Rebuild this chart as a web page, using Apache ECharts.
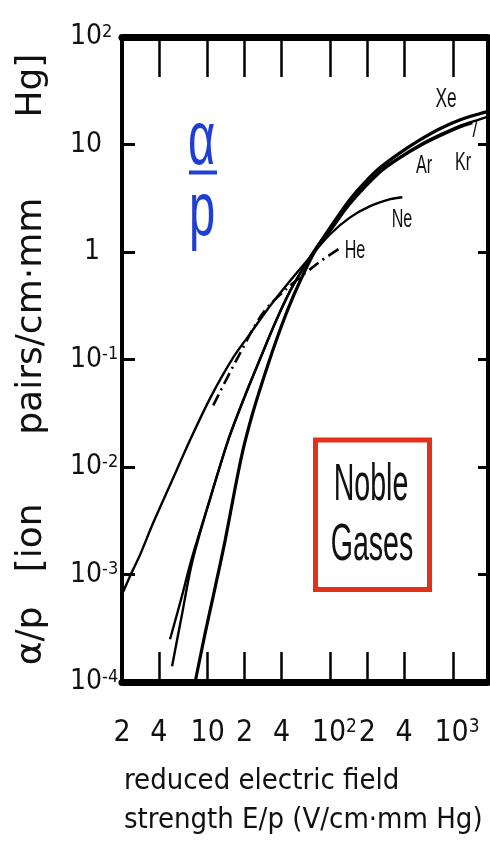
<!DOCTYPE html>
<html><head><meta charset="utf-8">
<script src="https://cdn.jsdelivr.net/npm/echarts@6/dist/echarts.min.js"></script>
<style>html,body{margin:0;padding:0;background:#fff}#c{width:490px;height:849px}</style>
</head><body><div id="c"></div>
<script>
// ---- tick marks / labels ----
const xTickValues = [2, 4, 10, 20, 40, 100, 200, 400, 1000];
const xTickBase   = ['2', '4', '10', '2', '4', '10', '2', '4', '10'];
const xTickExp    = ['', '', '', '', '', '2', '', '', '3'];
const yTickExponents = [-4, -3, -2, -1, 0, 1, 2];
const yTickBase   = ['10', '10', '10', '10', '1', '10', '10'];
const yTickExp    = ['-4', '-3', '-2', '-1', '', '', '2'];

// ---- curves: E/p (V/cm·mm Hg) vs alpha/p (ion pairs/cm·mm Hg) ----
const xeField = [7.9, 9.5, 11.5, 13.9, 16.7, 19.4, 23.0, 27.8, 35.5, 45.3, 56.8, 75, 100, 145, 193, 255, 372, 542, 789, 1148, 1672, 1930];
const xeAlpha = [1.0e-4, 2.8e-4, 7.6e-4, 2.1e-3, 6.3e-3, 0.0144, 0.0303, 0.0612, 0.141, 0.297, 0.54, 1.02, 1.70, 3.1, 4.5, 6.1, 8.4, 11.1, 14.1, 17.0, 19.4, 20.2];

const krField = [4.93, 6.07, 7.45, 10.45, 14.7, 20.2, 26.8, 35.5, 47, 62.4, 82.6, 100, 145, 255, 372, 542, 789, 1148, 1440];
const krAlpha = [2.5e-4, 5.9e-4, 1.44e-3, 5.06e-3, 0.0178, 0.0464, 0.102, 0.22, 0.435, 0.76, 1.24, 1.58, 2.8, 5.5, 7.5, 9.7, 12.0, 14.5, 15.8];

const arField = [5.12, 6.18, 7.45, 10.45, 14.7, 20.2, 26.8, 35.5, 47, 62.4, 82.6, 100, 145, 255, 372, 542, 789, 1148, 1672, 1930];
const arAlpha = [1.4e-4, 4.3e-4, 1.29e-3, 5.06e-3, 0.0178, 0.0464, 0.102, 0.22, 0.435, 0.76, 1.24, 1.6, 2.9, 5.7, 7.7, 10.0, 12.4, 15.0, 17.2, 18.2];

const neField = [2, 2.32, 2.81, 3.58, 4.93, 7.18, 10.45, 16.1, 22.2, 32.3, 47, 68.5, 100, 145, 211, 308, 386];
const neAlpha = [6.5e-4, 9.6e-4, 1.53e-3, 3.0e-3, 6.8e-3, 0.0178, 0.0435, 0.104, 0.174, 0.316, 0.54, 0.90, 1.47, 2.1, 2.67, 3.1, 3.23];

const heField = [11.1, 17.4, 28.3, 44.5, 79.6, 120];
const heAlpha = [0.0375, 0.102, 0.272, 0.46, 0.79, 1.09];

const X_MIN = 2, X_MAX = 1930;

const NARROW = '"DejaVu Sans Condensed", "Liberation Sans Narrow", sans-serif';
const BLUE = '#1f3fd3';
const RED = '#e2301a';

function pts(xs, ys) { return xs.map((x, i) => [Math.log10(x), Math.log10(ys[i])]); }
const xCustom = xTickValues.map(v => Math.log10(v));
function xIndex(v) { return xCustom.findIndex(c => Math.abs(c - v) < 1e-6); }

const chart = echarts.init(document.getElementById('c'), null, {renderer: 'canvas'});
const lineBase = {type: 'line', symbol: 'none', smooth: 0.3, silent: true};

chart.setOption({
  animation: false,
  backgroundColor: '#fff',
  grid: {left: 122, right: 2, top: 37, bottom: 167, containLabel: false, outerBoundsMode: 'none'},
  xAxis: [{
    type: 'value', position: 'bottom', min: Math.log10(X_MIN), max: Math.log10(X_MAX),
    axisLine: {show: true, onZero: false, lineStyle: {color: '#000', width: 7}},
    axisTick: {show: true, inside: true, length: 30, customValues: xCustom, lineStyle: {color: '#000', width: 2.5}},
    splitLine: {show: false},
    axisLabel: {
      show: true, customValues: xCustom, margin: 36, color: '#111',
      fontFamily: NARROW, fontSize: 30,
      formatter: v => { const i = xIndex(v); if (i < 0) return ''; return xTickExp[i] ? '{p| }' + xTickBase[i] + '{s|' + xTickExp[i] + '}' : xTickBase[i]; },
      rich: {p: {width: 8, fontSize: 18}, s: {fontSize: 19, fontFamily: NARROW, verticalAlign: 'top', color: '#111'}}
    },
    name: '{t|reduced electric field}\n{t|strength E/p (V/cm·mm Hg)}',
    nameLocation: 'middle', nameGap: 80,
    nameTextStyle: {
      fontFamily: NARROW, fontSize: 29, lineHeight: 39, color: '#111',
      rich: {t: {width: 362, align: 'left', fontFamily: NARROW, fontSize: 29, lineHeight: 39, color: '#111'}}
    }
  }, {
    type: 'value', position: 'top', min: Math.log10(X_MIN), max: Math.log10(X_MAX),
    axisLine: {show: true, onZero: false, lineStyle: {color: '#000', width: 7}},
    axisTick: {show: true, inside: true, length: 40, customValues: xCustom, lineStyle: {color: '#000', width: 2.5}},
    axisLabel: {show: false}, splitLine: {show: false}
  }],
  yAxis: [{
    type: 'value', position: 'left', min: -4, max: 2, interval: 1,
    axisLine: {show: true, onZero: false, lineStyle: {color: '#000', width: 4}},
    axisTick: {show: true, inside: true, length: 13, lineStyle: {color: '#000', width: 3}},
    splitLine: {show: false},
    axisLabel: {
      show: true, align: 'left', margin: 52, color: '#111', fontFamily: NARROW, fontSize: 28,
      formatter: v => { const i = yTickExponents.indexOf(Math.round(v)); if (i < 0) return '';
        if (yTickExp[i]) return yTickBase[i] + '{s|' + yTickExp[i] + '}';
        return yTickBase[i] === '1' ? '{q| }1' : yTickBase[i]; },
      rich: {q: {width: 14, fontSize: 18}, s: {fontSize: 18, fontFamily: NARROW, verticalAlign: 'top', color: '#111'}}
    },
    name: 'α/p   [ion      pairs/cm·mm       Hg]',
    nameLocation: 'middle', nameRotate: 90, nameGap: 72,
    nameTextStyle: {fontFamily: '"DejaVu Sans", sans-serif', fontSize: 36, color: '#111'}
  }, {
    type: 'value', position: 'right', min: -4, max: 2, interval: 1,
    axisLine: {show: true, onZero: false, lineStyle: {color: '#000', width: 4}},
    axisTick: {show: true, inside: true, length: 10, lineStyle: {color: '#000', width: 3}},
    axisLabel: {show: false}, splitLine: {show: false}
  }],
  series: [
    Object.assign({}, lineBase, {name: 'Xe', data: pts(xeField, xeAlpha), lineStyle: {color: '#000', width: 3.2}}),
    Object.assign({}, lineBase, {name: 'Kr', data: pts(krField, krAlpha), lineStyle: {color: '#000', width: 2.4}}),
    Object.assign({}, lineBase, {name: 'Ar', data: pts(arField, arAlpha), lineStyle: {color: '#000', width: 2.4}}),
    Object.assign({}, lineBase, {name: 'Ne', data: pts(neField, neAlpha), lineStyle: {color: '#000', width: 2.4}}),
    Object.assign({}, lineBase, {name: 'He', data: pts(heField, heAlpha), lineStyle: {color: '#000', width: 2.6, type: [12, 5, 2, 5]}})
  ],
  graphic: [
    {type: 'text', x: 188, y: 143, scaleX: 0.62, style: {text: 'α', font: '76px "Liberation Sans"', fill: BLUE, verticalAlign: 'middle'}},
    {type: 'line', shape: {x1: 189, y1: 172.5, x2: 217, y2: 172.5}, style: {stroke: BLUE, lineWidth: 4}},
    {type: 'text', x: 189, y: 214, scaleX: 0.62, style: {text: 'p', font: '76px "Liberation Sans"', fill: BLUE, verticalAlign: 'middle'}},
    {type: 'rect', shape: {x: 315.5, y: 440, width: 114, height: 149.5}, style: {stroke: RED, fill: 'none', lineWidth: 5}},
    {type: 'text', x: 371, y: 486, scaleX: 0.55, style: {text: 'Noble', font: '52px "Liberation Sans"', fill: '#111', align: 'center', verticalAlign: 'middle'}},
    {type: 'text', x: 372, y: 546, scaleX: 0.55, style: {text: 'Gases', font: '52px "Liberation Sans"', fill: '#111', align: 'center', verticalAlign: 'middle'}},
    {type: 'text', x: 446, y: 99, scaleX: 0.62, style: {text: 'Xe', font: '28px "Liberation Sans"', fill: '#111', align: 'center', verticalAlign: 'middle'}},
    {type: 'text', x: 424, y: 166, scaleX: 0.62, style: {text: 'Ar', font: '26px "Liberation Sans"', fill: '#111', align: 'center', verticalAlign: 'middle'}},
    {type: 'text', x: 463, y: 163, scaleX: 0.62, style: {text: 'Kr', font: '26px "Liberation Sans"', fill: '#111', align: 'center', verticalAlign: 'middle'}},
    {type: 'text', x: 475, y: 131, scaleX: 0.8, style: {text: '/', font: '22px "Liberation Sans"', fill: '#111', align: 'center', verticalAlign: 'middle'}},
    {type: 'text', x: 402, y: 220, scaleX: 0.62, style: {text: 'Ne', font: '26px "Liberation Sans"', fill: '#111', align: 'center', verticalAlign: 'middle'}},
    {type: 'text', x: 355, y: 251, scaleX: 0.62, style: {text: 'He', font: '26px "Liberation Sans"', fill: '#111', align: 'center', verticalAlign: 'middle'}}
  ]
});
</script></body></html>
